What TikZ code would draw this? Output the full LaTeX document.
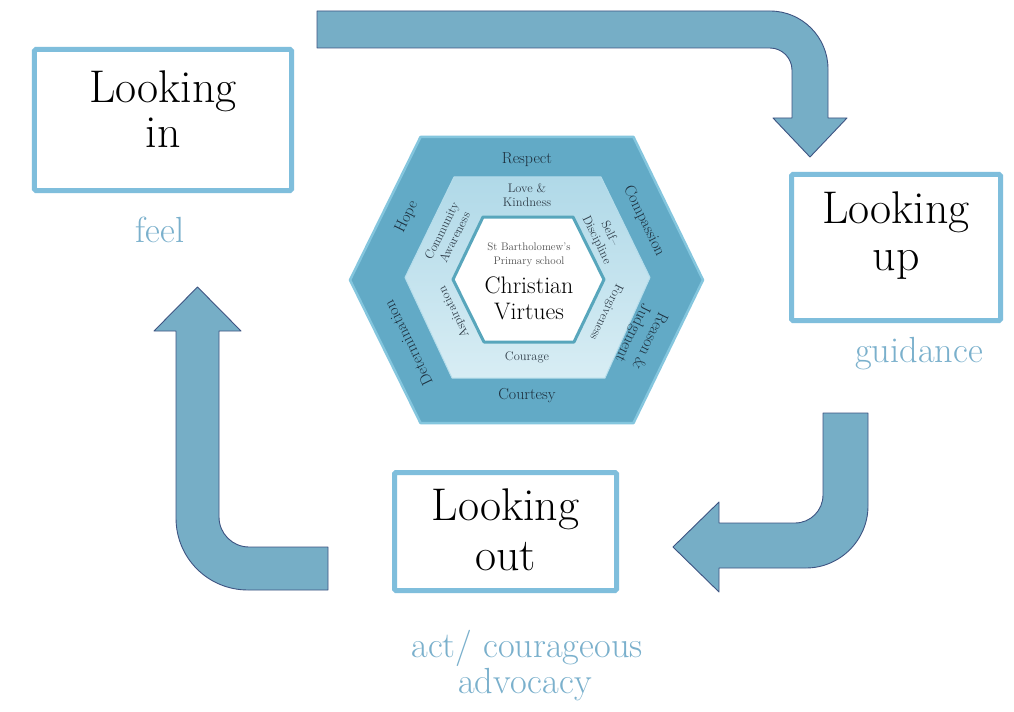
\documentclass[tikz,border=0pt]{standalone}
\usepackage{tikz}
\definecolor{arrowfill}{RGB}{118,174,198}
\definecolor{arrowline}{RGB}{62,84,130}
\definecolor{boxline}{RGB}{127,190,220}
\definecolor{labelc}{RGB}{122,176,204}
\definecolor{hexout}{RGB}{98,170,198}
\definecolor{hexoutline}{RGB}{132,198,222}
\definecolor{hexmidtop}{RGB}{176,217,232}
\definecolor{hexmidbot}{RGB}{216,237,244}
\definecolor{hexinline}{RGB}{88,166,188}
\definecolor{virtdark}{RGB}{28,46,60}
\definecolor{virtmid}{RGB}{50,64,76}
\definecolor{smallgrey}{RGB}{80,80,80}
\tikzset{
 bigarrow/.style={fill=arrowfill, draw=arrowline, line width=0.9bp, line join=round},
 lookbox/.style={draw=boxline, line width=5bp, rounded corners=1.5bp, fill=white, inner sep=0pt},
 looktext/.style={anchor=base, font=\fontsize{46}{50}\selectfont, text=black, inner sep=0pt},
 labeltext/.style={anchor=base, font=\fontsize{36.5}{40}\selectfont, text=labelc, inner sep=0pt},
 outervirtue/.style={font=\fontsize{16}{18.5}\selectfont, text=virtdark, align=center, inner sep=0pt},
 midvirtue/.style={font=\fontsize{12.5}{14.5}\selectfont, text=virtmid, align=center, inner sep=0pt},
 centersmall/.style={anchor=base, font=\fontsize{11}{12}\selectfont, text=smallgrey, inner sep=0pt},
 centerbig/.style={anchor=base, font=\fontsize{24}{26}\selectfont, text=black, inner sep=0pt},
}
\begin{document}
\begin{tikzpicture}[x=1bp,y=-1bp]
\path[use as bounding box, fill=white] (0,0) rectangle (1014,712);

% ---- big arrows ----
% top arrow (to Looking up)
\path[bigarrow] (317,11) -- (770,11)
  .. controls (802,11) and (828,37) .. (828,69)
  -- (828,118) -- (847,118) -- (810,157) -- (773,118) -- (792,118) -- (792,70)
  .. controls (792,58) and (782,48) .. (770,48)
  -- (317,48) -- cycle;
% right arrow (to Looking out)
\path[bigarrow] (823,413) -- (868,413) -- (868,506)
  .. controls (868,540) and (840,568) .. (806,568)
  -- (719,568) -- (719,592) -- (673,547) -- (719,502) -- (719,523) -- (795,523)
  .. controls (810.5,523) and (823,510.5) .. (823,495) -- cycle;
% left arrow (to Looking in)
\path[bigarrow] (328,547) -- (249,547)
  .. controls (232.5,547) and (219,533.5) .. (219,517)
  -- (219,331) -- (241,331) -- (197.5,287) -- (154,331) -- (176,331) -- (176,518)
  .. controls (176,558) and (208,590) .. (248,590)
  -- (328,590) -- cycle;

% ---- boxes ----
\node[lookbox, minimum width=257bp, minimum height=141bp] (lookin) at (163,120) {};
\node[lookbox, minimum width=209bp, minimum height=146bp] (lookup) at (896,247.5) {};
\node[lookbox, minimum width=222bp, minimum height=118bp] (lookout) at (505.5,531.5) {};

\node[looktext] (lookinA) at (163,103) {Looking};
\node[looktext] (lookinB) at (163,148) {in};
\node[looktext] (lookupA) at (896,223) {Looking};
\node[looktext] (lookupB) at (896,270) {up};
\node[looktext] (lookoutA) at (505.5,520) {Looking};
\node[looktext] (lookoutB) at (505.5,570) {out};

\node[labeltext] (feel) at (160,242) {feel};
\node[labeltext] (guid) at (919,362) {guidance};
\node[labeltext] (act) at (527,657) {act/ courageous};
\node[labeltext] (adv) at (525,693) {advocacy};

% ---- hexagon ----
\path[fill=hexout, draw=hexoutline, line width=2.5bp, line join=round]
  (420.5,137) -- (633.5,137) -- (703,280) -- (633.5,423) -- (420.5,423) -- (350,280) -- cycle;
\path[top color=hexmidtop, bottom color=hexmidbot, draw=hexoutline!60!white, line width=1bp, line join=round]
  (454,177) -- (601,177) -- (650,277.5) -- (605,378) -- (452,378) -- (405,277.5) -- cycle;
\path[fill=white, draw=hexinline, line width=3bp, line join=round]
  (483,217) -- (573,217) -- (604,279.5) -- (574,342) -- (484,342) -- (453,279.5) -- cycle;

% outer band virtues
\node[outervirtue] (respect) at (527,160) {Respect};
\node[outervirtue, rotate=-64] (compassion) at (644,221) {Compassion};
\node[outervirtue, rotate=-116] (reason) at (641,337) {Reason \&\\Judgment};
\node[outervirtue] (courtesy) at (527,396) {Courtesy};
\node[outervirtue, rotate=116] (determination) at (408,343) {Determination};
\node[outervirtue, rotate=64] (hope) at (407,217) {Hope};

% middle band virtues
\node[midvirtue] (love) at (527,195) {Love \&\\Kindness};
\node[midvirtue, rotate=-64] (selfd) at (603,237) {Self--\\Discipline};
\node[midvirtue, rotate=-116] (forgive) at (606,312) {Forgiveness};
\node[midvirtue] (courage) at (527,357) {Courage};
\node[midvirtue, rotate=116] (aspiration) at (454,312) {Aspiration};
\node[midvirtue, rotate=64] (community) at (448,234) {Community\\Awareness};

% center
\node[centersmall] (stb) at (529,250) {St Bartholomew's};
\node[centersmall] (prim) at (529,264) {Primary school};
\node[centerbig] (christian) at (529,293) {Christian};
\node[centerbig] (virtues) at (529,319) {Virtues};
\end{tikzpicture}
\end{document}
